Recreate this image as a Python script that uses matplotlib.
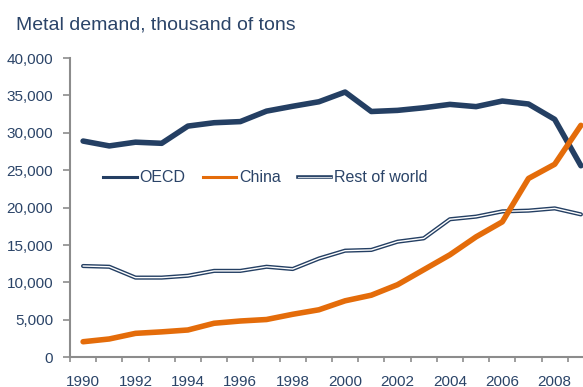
import matplotlib
matplotlib.use("Agg")
import matplotlib.pyplot as plt
from matplotlib.lines import Line2D
from matplotlib.ticker import FuncFormatter, FixedLocator

years = list(range(1990, 2010))
oecd = [28900, 28250, 28750, 28600, 30900, 31350, 31500, 32900, 33550, 34150,
        35450, 32850, 33000, 33350, 33800, 33500, 34250, 33850, 31800, 25600]
china = [2080, 2450, 3200, 3400, 3650, 4550, 4850, 5050, 5750, 6350,
         7550, 8300, 9700, 11700, 13700, 16100, 18100, 23900, 25800, 31000]
rest = [12200, 12100, 10650, 10650, 10900, 11550, 11550, 12100, 11800, 13200,
        14250, 14350, 15450, 15900, 18450, 18800, 19500, 19600, 19900, 19100]
year_labels = [str(y) for y in range(1990, 2010, 2)]
title = "Metal demand, thousand of tons"

navy = "#243F63"
orange = "#E46C0A"
text_c = "#2B4468"
axis_c = "#8C8C8C"

plt.rcParams['font.family'] = ['Liberation Sans', 'DejaVu Sans']

W, H = 583, 387
fig = plt.figure(figsize=(W / 100, H / 100), dpi=100)
ax = fig.add_axes([70 / W, 1 - 357.3 / H, (594 - 70) / W, (357.3 - 58) / H])

x = list(range(len(years)))
ax.plot(x, rest, color=navy, lw=3.0, solid_capstyle='round', solid_joinstyle='round', zorder=2)
ax.plot(x, rest, color='white', lw=1.0, solid_capstyle='round', solid_joinstyle='round', zorder=2.1)
ax.plot(x, oecd, color=navy, lw=4.0, solid_capstyle='round', solid_joinstyle='round', zorder=3)
ax.plot(x, china, color=orange, lw=4.0, solid_capstyle='round', solid_joinstyle='round', zorder=4)

ax.set_xlim(-0.5, len(years) - 0.5)
ax.set_ylim(0, 40000)
ax.set_yticks(range(0, 40001, 5000))
ax.yaxis.set_major_formatter(FuncFormatter(lambda v, p: f"{int(v):,}"))

label_pos = [years.index(int(s)) for s in year_labels]
ax.set_xticks(label_pos)
ax.set_xticklabels(year_labels)
ax.xaxis.set_minor_locator(FixedLocator([i - 0.5 for i in range(len(years))]))

for s in ['top', 'right']:
    ax.spines[s].set_visible(False)
for s in ['left', 'bottom']:
    ax.spines[s].set_color(axis_c)
    ax.spines[s].set_linewidth(1.5)

ax.tick_params(axis='y', colors=axis_c, labelcolor=text_c, labelsize=11,
               length=5, width=1.2, pad=7)
ax.tick_params(axis='x', which='major', length=0, labelcolor=text_c, labelsize=11, pad=13)
ax.tick_params(axis='x', which='minor', colors=axis_c, length=3.5, width=1.2)

fig.text(16 / W, 1 - 30 / H, title, fontsize=14, color=text_c, va='baseline', ha='left')

h_oecd = Line2D([], [], color=navy, lw=2.2)
h_china = Line2D([], [], color=orange, lw=2.2)
h_rest = (Line2D([], [], color=navy, lw=2.6), Line2D([], [], color='#C8D0DA', lw=0.8))
leg = fig.legend([h_oecd, h_china, h_rest], ["OECD", "China", "Rest of world"],
                 loc='center left', bbox_to_anchor=(103 / W, 1 - 178 / H),
                 ncol=3, frameon=False, fontsize=11.5, handlelength=2.1,
                 handletextpad=0.2, columnspacing=1.05, borderpad=0, borderaxespad=0)
for t in leg.get_texts():
    t.set_color(text_c)

fig.savefig("out.png", dpi=100)
